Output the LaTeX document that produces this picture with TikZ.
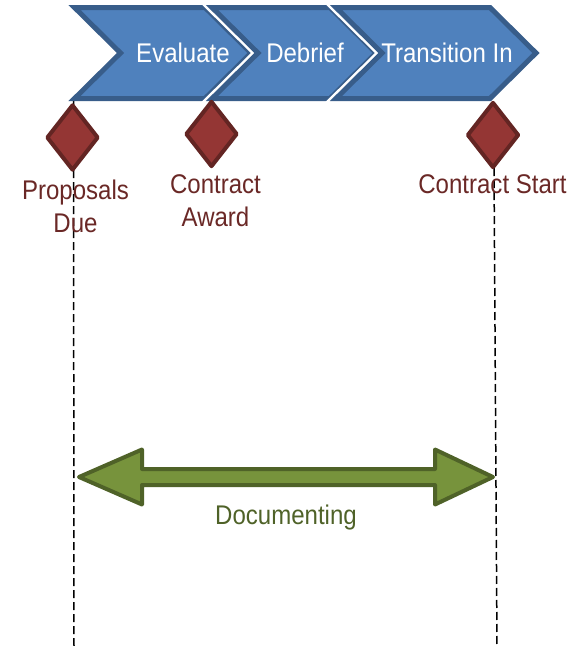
\documentclass[tikz,border=0pt]{standalone}
\usepackage{fontspec}
\setmainfont{Liberation Sans}[FakeStretch=0.89]
\usetikzlibrary{shapes.geometric}
\definecolor{chevfill}{HTML}{4F81BD}
\definecolor{chevline}{HTML}{385D8A}
\definecolor{msfill}{HTML}{943634}
\definecolor{msline}{HTML}{632523}
\definecolor{mstext}{HTML}{6A2826}
\definecolor{arfill}{HTML}{77933C}
\definecolor{arline}{HTML}{4F6228}
\tikzset{
  chevron/.style={fill=chevfill, draw=chevline, line width=5pt, line join=miter},
  chevgap/.style={draw=white, line width=10pt, line join=miter},
  chevtext/.style={text=white, font=\fontsize{27}{32}\selectfont, inner sep=0pt},
  milestone/.style={shape=diamond, fill=msfill, draw=msline, line width=4pt, line join=round,
     minimum width=52pt, minimum height=66pt, inner sep=0pt},
  mslabel/.style={text=mstext, font=\fontsize{27}{33}\selectfont, align=center, inner sep=0pt, anchor=base},
  guide/.style={draw=black, line width=1.5pt, dash pattern=on 8pt off 4pt},
  span/.style={fill=arfill, draw=arline, line width=4pt, line join=round},
  spantext/.style={text=arline, font=\fontsize{27}{32}\selectfont, inner sep=0pt},
}
\begin{document}
\begin{tikzpicture}[x=1pt, y=-1pt]
\useasboundingbox (0,0) rectangle (583,646);
% guides
\coordinate (g1top) at (73.5,98);
\coordinate (g1bot) at (74,646);
\coordinate (g2top) at (494,168);
\coordinate (g2bot) at (497,646);
\draw[guide] (g1top) -- (g1bot);
\draw[guide] (g2top) -- (g2bot);
% chevrons
\draw[chevron] (74.5,7.5) -- (205,7.5) -- (251,53) -- (205,98.5) -- (74.5,98.5) -- (120.5,53) -- cycle;
\draw[chevgap] (212,7.5) -- (330,7.5) -- (376,53) -- (330,98.5) -- (212,98.5) -- (258,53) -- cycle;
\draw[chevron] (212,7.5) -- (330,7.5) -- (376,53) -- (330,98.5) -- (212,98.5) -- (258,53) -- cycle;
\draw[chevgap] (336,7.5) -- (490,7.5) -- (536,53) -- (490,98.5) -- (336,98.5) -- (382,53) -- cycle;
\draw[chevron] (336,7.5) -- (490,7.5) -- (536,53) -- (490,98.5) -- (336,98.5) -- (382,53) -- cycle;
\node[chevtext] (evaluate) at (183,53) {Evaluate};
\node[chevtext] (debrief) at (305,53) {Debrief};
\node[chevtext] (transition) at (447,53) {Transition In};
% milestones
\node[milestone] (m1) at (72.5,137.5) {};
\node[milestone] (m2) at (211.5,134) {};
\node[milestone] (m3) at (493,135) {};
\node[mslabel] (l1) at (75.5,232) {Proposals\\Due};
\node[mslabel] (l2) at (215.5,226) {Contract\\Award};
\node[mslabel] (l3) at (492.5,193) {Contract Start};
% span arrow
\draw[span] (79,477) -- (142,449.5) -- (142,469) -- (435,469) -- (435,449.5) -- (493,477)
  -- (435,504.5) -- (435,485) -- (142,485) -- (142,504.5) -- cycle;
\node[spantext] (doc) at (286,518) {Documenting};
\end{tikzpicture}
\end{document}
